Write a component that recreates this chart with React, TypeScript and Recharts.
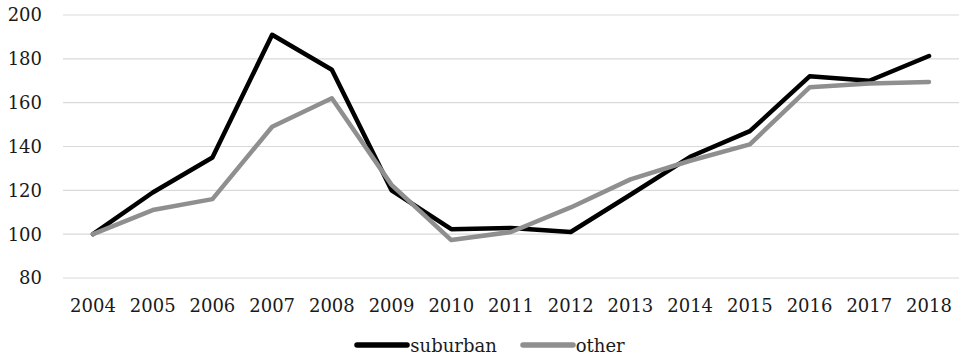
import React from "react";
import { LineChart, Line, XAxis, YAxis, CartesianGrid, Legend } from "recharts";

const years = ["2004", "2005", "2006", "2007", "2008", "2009", "2010", "2011", "2012", "2013", "2014", "2015", "2016", "2017", "2018"];
const suburban = [100, 119, 135, 191, 175, 120, 102.3, 102.8, 101, 118, 135.3, 147, 172, 170, 181.3];
const other = [100, 111, 116, 149, 162, 122.5, 97.3, 101, 112.2, 125, 133.5, 141, 167, 168.7, 169.4];
const yTicks = [80, 100, 120, 140, 160, 180, 200];
const seriesOrder = ["suburban", "other"];

const data = years.map((year, i) => ({ year, suburban: suburban[i], other: other[i] }));

const FONT = "'DejaVu Serif', serif";
const tickStyle = { fontFamily: FONT, fontSize: 18, fill: "#1a1a1a" };

function LegendContent(props: any) {
  const payload = [...(props.payload || [])].sort(
    (a: any, b: any) => seriesOrder.indexOf(a.value) - seriesOrder.indexOf(b.value)
  );
  return (
    <div style={{ display: "flex", justifyContent: "center", alignItems: "center", paddingLeft: 20 }}>
      {payload.map((item: any, i: number) => (
        <div key={item.value} style={{ display: "flex", alignItems: "center", marginLeft: i === 0 ? 0 : 23 }}>
          <svg width={56} height={8} style={{ position: "relative", top: -1 }}>
            <line x1={3} y1={4} x2={53} y2={4} stroke={item.color} strokeWidth={5.5} strokeLinecap="round" />
          </svg>
          <span style={{ fontFamily: FONT, fontSize: 18, color: "#1a1a1a" }}>{item.value}</span>
        </div>
      ))}
    </div>
  );
}

export default function App() {
  return (
    <div style={{ position: "absolute", left: 0, top: 0, width: 959, height: 358, background: "#fff" }}>
      <LineChart width={959} height={358} data={data} margin={{ top: 15, right: 0, bottom: 0, left: 0 }}>
        <CartesianGrid vertical={false} stroke="#d9d9d9" strokeWidth={1.2} />
        <XAxis
          dataKey="year"
          axisLine={false}
          tickLine={false}
          tickSize={0}
          tickMargin={21}
          height={59}
          padding={{ left: 30, right: 30 }}
          tick={tickStyle}
          interval={0}
        />
        <YAxis
          domain={[80, 200]}
          ticks={yTicks}
          axisLine={false}
          tickLine={false}
          tickSize={0}
          tickMargin={21}
          width={63}
          tick={tickStyle}
        />
        <Legend
          verticalAlign="bottom"
          height={21}
          content={<LegendContent />}
          wrapperStyle={{ left: 0, top: 335, width: 959 }}
        />
        <Line
          dataKey="suburban"
          name="suburban"
          stroke="#000000"
          strokeWidth={4.5}
          strokeLinejoin="round"
          strokeLinecap="round"
          dot={false}
          isAnimationActive={false}
        />
        <Line
          dataKey="other"
          name="other"
          stroke="#8f8f8f"
          strokeWidth={4.5}
          strokeLinejoin="round"
          strokeLinecap="round"
          dot={false}
          isAnimationActive={false}
        />
      </LineChart>
    </div>
  );
}
